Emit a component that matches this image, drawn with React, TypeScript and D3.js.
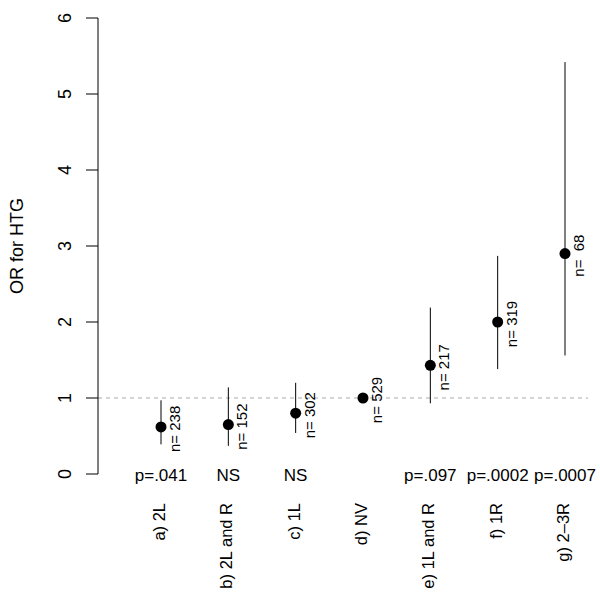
import React from 'react';
import * as d3 from 'd3';

const groups = ['a) 2L', 'b) 2L and R', 'c) 1L', 'd) NV', 'e) 1L and R', 'f) 1R', 'g) 2\u20133R'];
const orValues = [0.62, 0.65, 0.80, 1.0, 1.43, 2.0, 2.90];
const ciLow = [0.39, 0.37, 0.54, 1.0, 0.93, 1.38, 1.56];
const ciHigh = [0.97, 1.14, 1.20, 1.0, 2.19, 2.87, 5.42];
const nLabels = ['n= 238', 'n= 152', 'n= 302', 'n= 529', 'n= 217', 'n= 319', 'n=  68'];
const pLabels = ['p=.041', 'NS', 'NS', '', 'p=.097', 'p=.0002', 'p=.0007'];
const yTicks = [0, 1, 2, 3, 4, 5, 6];

const FONT = '"Liberation Sans", Arial, Helvetica, sans-serif';

export default function App() {
  const width = 600;
  const height = 600;

  const x = d3.scaleLinear().domain([0, 6]).range([161, 565]);
  const y = d3.scaleLinear().domain([0, 6]).range([474, 18]);
  const axisX = 98;

  return (
    <svg
      width={width}
      height={height}
      style={{ position: 'absolute', left: 0, top: 0, background: '#fff' }}
      fontFamily={FONT}
    >
      {/* reference line at OR = 1 */}
      <line
        x1={axisX}
        x2={588}
        y1={y(1)}
        y2={y(1)}
        stroke="#aaa"
        strokeDasharray="4,4"
      />

      {/* y axis */}
      <line x1={axisX} x2={axisX} y1={y(0)} y2={y(6)} stroke="#000" />
      {yTicks.map(t => (
        <g key={t}>
          <line x1={axisX - 12} x2={axisX} y1={y(t)} y2={y(t)} stroke="#000" />
          <text
            transform={`translate(65,${y(t)}) rotate(-90)`}
            textAnchor="middle"
            dominantBaseline="central"
            fontSize={18}
          >
            {t}
          </text>
        </g>
      ))}
      <text
        transform={`translate(17,${(y(0) + y(6)) / 2}) rotate(-90)`}
        textAnchor="middle"
        dominantBaseline="central"
        fontSize={18}
      >
        OR for HTG
      </text>

      {/* CI lines, points, n labels */}
      {groups.map((g, i) => (
        <g key={g}>
          {ciHigh[i] > ciLow[i] && (
            <line
              x1={x(i)}
              x2={x(i)}
              y1={y(ciLow[i])}
              y2={y(ciHigh[i])}
              stroke="#000"
              strokeWidth={1}
            />
          )}
          <circle cx={x(i)} cy={y(orValues[i])} r={5.5} fill="#000" />
          <text
            transform={`translate(${x(i) + 13.5},${y(orValues[i]) + 2}) rotate(-90)`}
            textAnchor="middle"
            dominantBaseline="central"
            fontSize={15}
            style={{ whiteSpace: 'pre' }}
          >
            {nLabels[i]}
          </text>
          <text
            x={x(i)}
            y={475}
            textAnchor="middle"
            dominantBaseline="central"
            fontSize={17}
          >
            {pLabels[i]}
          </text>
          <text
            transform={`translate(${x(i) - 2},503) rotate(-90)`}
            textAnchor="end"
            dominantBaseline="central"
            fontSize={16.5}
          >
            {g}
          </text>
        </g>
      ))}
    </svg>
  );
}
